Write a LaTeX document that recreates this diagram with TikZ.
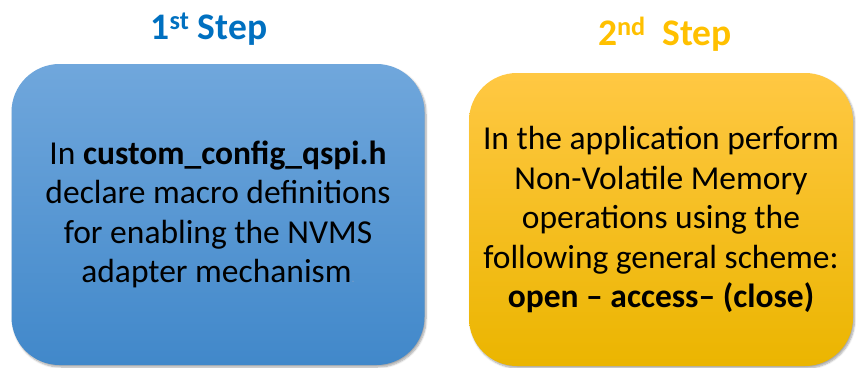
\documentclass[tikz,border=0pt]{standalone}
\usepackage{fontspec}
\setmainfont{Carlito}
\usetikzlibrary{shadows.blur}
\definecolor{blueTop}{HTML}{70A7DC}
\definecolor{blueBot}{HTML}{4188CA}
\definecolor{yelTop}{HTML}{FFC843}
\definecolor{yelBot}{HTML}{EBB500}
\definecolor{titleBlue}{HTML}{0070C0}
\definecolor{titleYel}{HTML}{FFC000}
\definecolor{dotBlue}{HTML}{7A9CC6}
\tikzset{
  stepbox/.style={rounded corners=48pt, inner sep=0pt, align=center,
    font=\fontsize{33.5}{39.5}\selectfont, text=black,
    blur shadow={shadow xshift=1.5pt, shadow yshift=-2pt, shadow blur steps=6, shadow blur extra rounding=2pt, shadow opacity=35}},
  steptitle/.style={anchor=base, inner sep=0pt, font=\fontsize{37.5}{37.5}\selectfont\bfseries}
}
\begin{document}
\begin{tikzpicture}[x=1pt,y=-1pt]
\useasboundingbox (0,0) rectangle (856,367);
\node[stepbox, top color=blueTop, bottom color=blueBot,
      minimum width=413pt, minimum height=301pt] (box1) at (218,214.5)
  {In \textbf{custom\_config\_qspi.h}\\declare macro definitions\\for enabling the NVMS\\adapter mechanism{\fontsize{12}{12}\selectfont\color{dotBlue}.}};
\node[stepbox, top color=yelTop, bottom color=yelBot,
      minimum width=384pt, minimum height=293pt] (box2) at (661,219.5)
  {In the application perform\\Non-Volatile Memory\\operations using the\\following general scheme:\\\textbf{open – access– (close)}};
\node[steptitle, text=titleBlue] (t1) at (209,39) {1\textsuperscript{st} Step};
\node[steptitle, text=titleYel] (t2) at (665,45) {2\textsuperscript{nd}\ \ Step};
\end{tikzpicture}
\end{document}
